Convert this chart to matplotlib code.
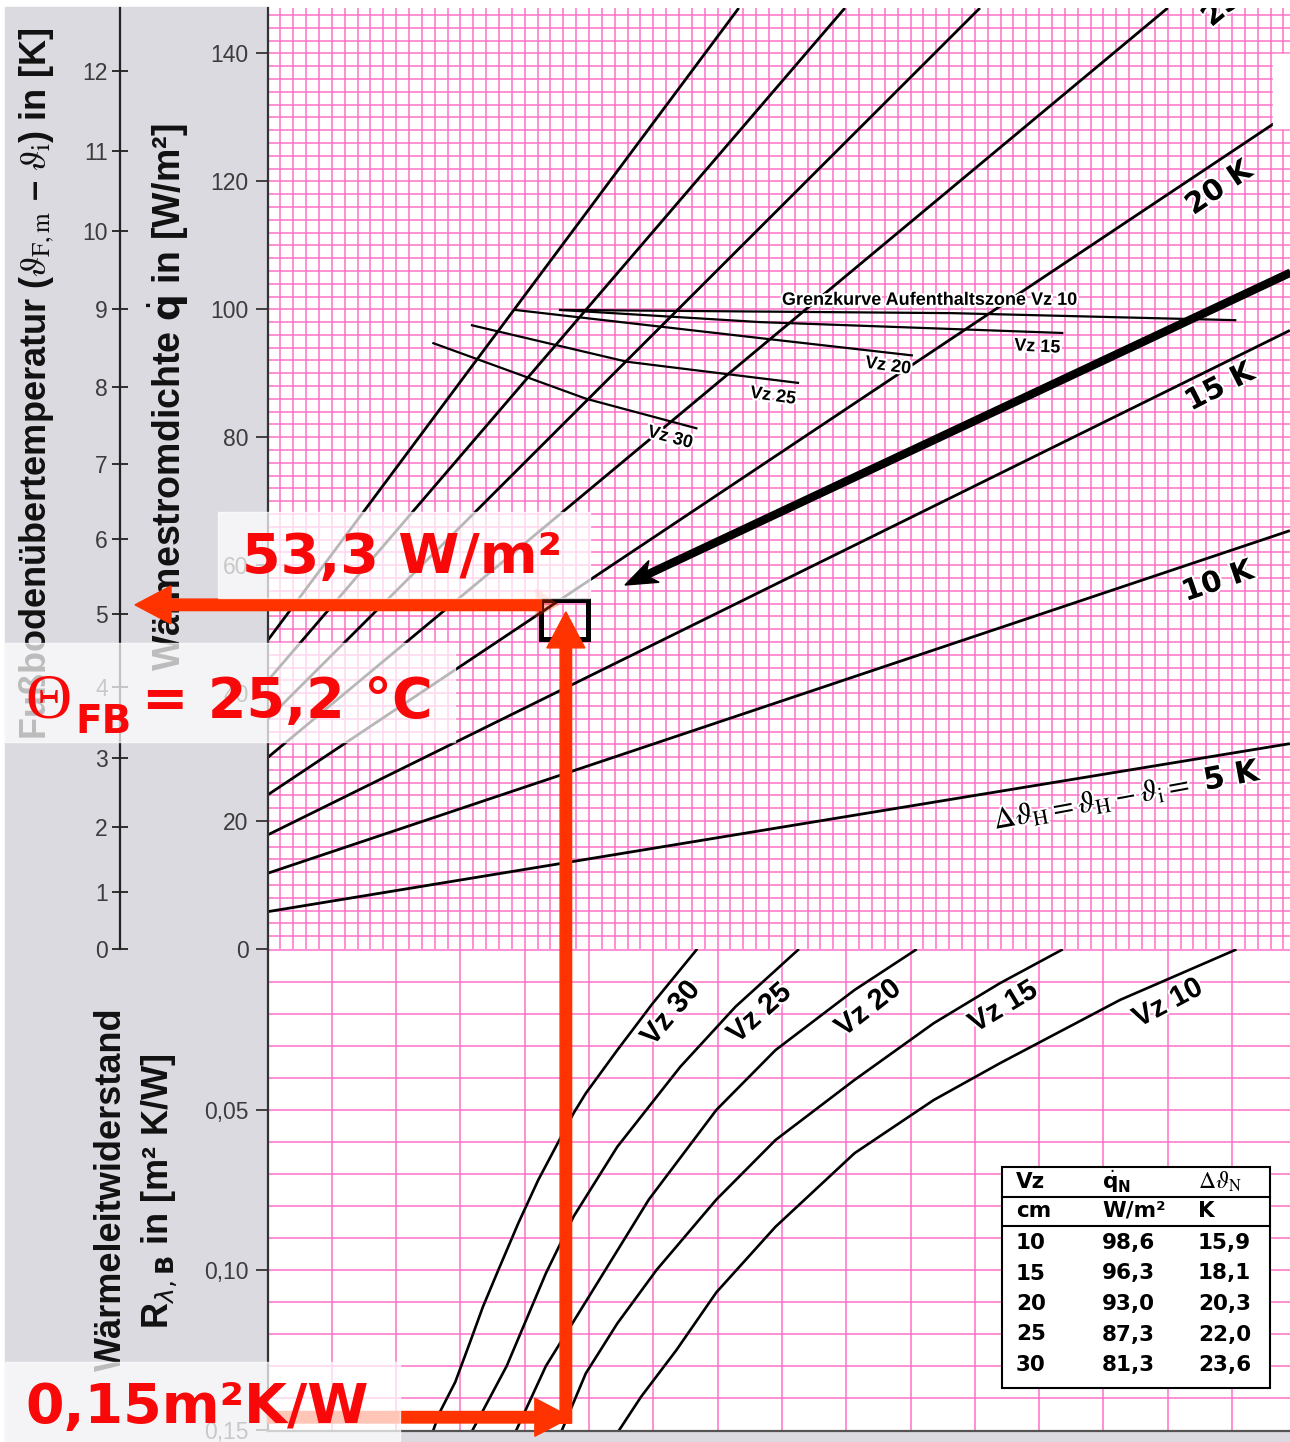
import numpy as np
import matplotlib.pyplot as plt
import matplotlib.patheffects as pe
from matplotlib.patches import Rectangle, FancyArrow, Polygon
from matplotlib.transforms import IdentityTransform

W, H = 1290, 1442
plt.rcParams['font.family'] = ['Liberation Sans', 'DejaVu Sans']
plt.rcParams['mathtext.fontset'] = 'dejavusans'

# upper nomogram: heat flux lines for the heating medium excess temperature
# x = horizontal nomogram coordinate (one coarse cell of the lower grid = 1)
dtheta_h = [5, 10, 15, 20, 25, 30, 35, 40]
fan_x0 = [0.0, 0.0, 0.0, 0.0, 0.0, 0.0, 0.0, 0.0]
fan_q0 = [5.83, 11.83, 17.82, 24.07, 29.9, 35.9, 41.9, 48.2]
fan_x1 = [15.9, 15.9, 15.9, 15.9, 14.0, 11.08, 8.98, 7.33]
fan_q1 = [32.1, 65.4, 96.7, 130.7, 147.1, 147.1, 147.1, 147.1]

# Grenzkurven Aufenthaltszone
gk_vz = [10, 15, 20, 25, 30]
gk_x = [[4.55, 10.65, 15.05], [4.55, 7.66, 12.36], [3.85, 7.66, 10.02],
        [3.18, 5.59, 8.25], [2.58, 4.96, 6.67]]
gk_q = [[99.9, 99.4, 98.3], [99.9, 98.0, 96.3], [99.9, 95.5, 92.8],
        [97.5, 91.8, 88.5], [94.7, 86.0, 81.4]]

# lower nomogram: pipe spacing Vz over floor covering resistance R
vz = [30, 25, 20, 15, 10]
vz_x = [[6.67, 5.99, 5.44, 4.95, 4.76, 4.21, 3.90, 3.59, 3.35, 3.16, 2.92, 2.67, 2.58],
        [8.25, 7.28, 6.42, 5.44, 4.76, 4.33, 3.72, 3.19],
        [10.08, 9.13, 7.90, 6.98, 5.93, 5.07, 4.33, 3.87],
        [12.35, 11.39, 10.36, 9.13, 7.90, 6.98, 6.05, 5.44, 4.95, 4.58],
        [15.05, 13.26, 11.39, 10.36, 9.13, 7.90, 6.98, 6.36, 5.81, 5.47]]
vz_r = [[0, 0.0167, 0.0313, 0.0448, 0.0510, 0.0719, 0.0854, 0.100, 0.1115, 0.122, 0.135, 0.1448, 0.150],
        [0, 0.0177, 0.0365, 0.0615, 0.0833, 0.101, 0.130, 0.150],
        [0, 0.0125, 0.0313, 0.050, 0.078, 0.106, 0.130, 0.150],
        [0, 0.0104, 0.0229, 0.0406, 0.0594, 0.078, 0.100, 0.1167, 0.1323, 0.150],
        [0, 0.0156, 0.0354, 0.0469, 0.0635, 0.0865, 0.107, 0.125, 0.1396, 0.150]]

tab_vz = ['10', '15', '20', '25', '30']
tab_q = ['98,6', '96,3', '93,0', '87,3', '81,3']
tab_dt = ['15,9', '18,1', '20,3', '22,0', '23,6']

# reading example (red path)
read_r = 0.146
read_x = 4.64
read_q = 53.8

# q = 8.92 * dT^1.1 for the temperature scale
KH, NH = 8.92, 1.1


def q2T(q):
    q = np.asarray(q, dtype=float)
    return np.sign(q) * (np.abs(q) / KH) ** (1 / NH)


def T2q(t):
    t = np.asarray(t, dtype=float)
    return np.sign(t) * KH * np.abs(t) ** NH


def fx(px):
    return px / W


def fy(py):
    return 1 - py / H


pink = '#ff72c8'
red_arrow = '#ff3300'
red_text = '#f80808'
gray_bg = '#dbdae1'
tick_c = '#3c3c3c'

fig = plt.figure(figsize=(W / 100, H / 100), dpi=100)
xl, xr = 267.5, 1290
ax_low = fig.add_axes([fx(xl), fy(1431), fx(xr) - fx(xl), fy(949) - fy(1431)])
ax_up = fig.add_axes([fx(xl), fy(949), fx(xr) - fx(xl), fy(8) - fy(949)])

xmax = (xr - xl) / 64.3
ax_up.set_xlim(0, xmax)
ax_up.set_ylim(0, 147.1)
ax_low.set_xlim(0, xmax)
ax_low.set_ylim(0.1503, -0.0003)

# grids
for v in np.arange(0.2, xmax, 0.2):
    ax_up.axvline(v, color=pink, lw=1.1, zorder=0.5)
for h in np.arange(2, 147, 2):
    ax_up.axhline(h, color=pink, lw=1.1, zorder=0.5)
for v in np.arange(1, xmax, 1):
    ax_low.axvline(v, color=pink, lw=1.1, zorder=0.5)
for h in np.arange(0.0, 0.15, 0.01):
    ax_low.axhline(h, color=pink, lw=1.1, zorder=0.5)

for ax in (ax_up, ax_low):
    for s in ('top', 'right', 'bottom'):
        ax.spines[s].set_visible(False)
    ax.spines['left'].set_color('#333333')
    ax.spines['left'].set_linewidth(1.6)
    ax.set_xticks([])
ax_low.spines['bottom'].set_visible(True)
ax_low.spines['bottom'].set_color('#555555')
ax_low.spines['bottom'].set_linewidth(1.6)

ax_up.set_yticks(range(0, 141, 20))
ax_up.tick_params(axis='y', direction='out', length=8.6, width=1.3, pad=5,
                  labelsize=16.5, labelcolor=tick_c, color='#333333')
ax_low.set_yticks([0.05, 0.10, 0.15])
ax_low.set_yticklabels(['0,05', '0,10', '0,15'])
ax_low.tick_params(axis='y', direction='out', length=8.6, width=1.3, pad=5,
                   labelsize=16.5, labelcolor=tick_c, color='#333333')

sec = ax_up.secondary_yaxis((120 - xl) / (xr - xl), functions=(q2T, T2q))
sec.set_alignment('left')
sec.set_yticks(range(13))
sec.tick_params(direction='inout', length=11.5, width=1.3, pad=3,
                labelsize=16.5, labelcolor=tick_c, color='#222222')
sec.spines['left'].set_color('#222222')
sec.spines['left'].set_linewidth(1.6)

# fan lines
for x0, q0, x1, q1 in zip(fan_x0, fan_q0, fan_x1, fan_q1):
    ax_up.plot([x0, x1], [q0, q1], color='black', lw=2.0, zorder=2,
               solid_capstyle='butt')

# limit curves
for xs, qs in zip(gk_x, gk_q):
    ax_up.plot(xs, qs, color='black', lw=1.6, zorder=2)

halo = [pe.withStroke(linewidth=3, foreground='white')]
ax_up.text(8.0, 100.7, 'Grenzkurve Aufenthaltszone Vz 10', fontsize=13,
           fontweight='bold', ha='left', va='baseline', zorder=3,
           path_effects=halo)
for lx, lq, rot, s in [(11.97, 94.1, -3, 'Vz 15'), (9.65, 91.1, -8, 'Vz 20'),
                       (7.86, 86.4, -8, 'Vz 25'), (6.26, 79.9, -15, 'Vz 30')]:
    ax_up.text(lx, lq, s, fontsize=13, fontweight='bold', ha='center',
               va='center', rotation=rot, rotation_mode='anchor', zorder=3,
               path_effects=halo)

klab = dict(fontsize=21, fontweight='bold', family='DejaVu Sans', ha='center',
            va='center', rotation_mode='anchor', zorder=3, path_effects=halo)
ax_up.text(14.80, 118.9, '20 K', rotation=34, **klab)
ax_up.text(14.81, 87.8, '15 K', rotation=27, **klab)
ax_up.text(14.78, 57.4, '10 K', rotation=19, **klab)
ax_up.text(14.6, 145.0, '25 K', rotation=40, clip_on=True,
           **{k: v for k, v in klab.items() if k != 'ha'}, ha='left')
ax_up.text(13.37, 24.0,
           r'$\Delta\vartheta_\mathrm{H} = \vartheta_\mathrm{H} - \vartheta_\mathrm{i} =$ 5 K',
           rotation=10.5, math_fontfamily='stix',
           **{k: v for k, v in klab.items() if k != 'fontsize'}, fontsize=22)

# lower Vz curves
for xs, rs in zip(vz_x, vz_r):
    ax_low.plot(xs, rs, color='black', lw=1.9, zorder=2, solid_joinstyle='round')
for lx, lr, rot, s in [(6.27, 0.0198, 50, 'Vz 30'), (7.65, 0.0198, 42, 'Vz 25'),
                       (9.34, 0.0182, 38, 'Vz 20'), (11.44, 0.0178, 31, 'Vz 15'),
                       (14.0, 0.0166, 28, 'Vz 10')]:
    ax_low.text(lx, lr, s, fontsize=21, fontweight='bold', ha='center',
                va='center', rotation=rot, rotation_mode='anchor', zorder=3,
                path_effects=halo)

# black square at the reading point
ax_up.add_patch(Rectangle((4.26, 48.4), 0.73, 6.1, fill=False, lw=3.6,
                          edgecolor='black', zorder=5))

# background panels
fig.add_artist(Rectangle((fx(5), fy(1441)), fx(xl) - fx(5), fy(7) - fy(1441),
                         transform=fig.transFigure, color=gray_bg, zorder=-1))
fig.add_artist(Rectangle((fx(xl), fy(1442)), fx(xr) - fx(xl), fy(1432) - fy(1442),
                         transform=fig.transFigure, color=gray_bg, zorder=-1))
fig.add_artist(Rectangle((fx(1273), fy(128)), fx(1290) - fx(1273), fy(54) - fy(128),
                         transform=fig.transFigure, color='white', zorder=2))

# axis titles
fig.text(fx(37), fy(384),
         r'Fußbodenübertemperatur ($\vartheta_{\mathrm{F,m}}$ – $\vartheta_{\mathrm{i}}$) in [K]',
         rotation=90, ha='center', va='center', fontsize=26, fontweight='bold',
         color='#111111', math_fontfamily='stix')
fig.text(fx(168), fy(397), r'Wärmestromdichte $\dot{\mathbf{q}}$ in [W/m²]',
         rotation=90, ha='center', va='center', fontsize=27, fontweight='bold',
         color='#111111')
fig.text(fx(111), fy(1189), 'Wärmeleitwiderstand', rotation=90, ha='center',
         va='center', fontsize=26, fontweight='bold', color='#111111')
fig.text(fx(160), fy(1191), r'R$_{\lambda,\mathbf{B}}$ in [m² K/W]', rotation=90,
         ha='center', va='center', fontsize=26, fontweight='bold', color='#111111')

# table
fig.add_artist(Rectangle((fx(1002), fy(1388)), fx(1270) - fx(1002), fy(1167) - fy(1388),
                         transform=fig.transFigure, facecolor='white',
                         edgecolor='black', lw=1.5, zorder=3))
for yl in (1197, 1226):
    fig.add_artist(plt.Line2D([fx(1002), fx(1270)], [fy(yl), fy(yl)],
                              transform=fig.transFigure, color='black', lw=1.5,
                              zorder=3.1))
tb = dict(fontsize=15.5, fontweight='bold', family='DejaVu Sans', ha='left',
          va='center', zorder=3.2)
fig.text(fx(1016), fy(1182), 'Vz', **tb)
fig.text(fx(1102), fy(1182), r'$\dot{\mathbf{q}}_{\mathbf{N}}$', **tb)
fig.text(fx(1198), fy(1182), r'$\Delta\vartheta_\mathrm{N}$', math_fontfamily='stix',
         **{k: v for k, v in tb.items() if k not in ('fontweight', 'fontsize')},
         fontsize=17)
fig.text(fx(1016), fy(1211), 'cm', **tb)
fig.text(fx(1102), fy(1211), 'W/m²', **tb)
fig.text(fx(1198), fy(1211), 'K', **tb)
for i in range(len(tab_vz)):
    yy = 1243 + 30.5 * i
    fig.text(fx(1016), fy(yy), tab_vz[i], **tb)
    fig.text(fx(1102), fy(yy), tab_q[i], **tb)
    fig.text(fx(1198), fy(yy), tab_dt[i], **tb)

# red reading path
p_bl = ax_low.transData.transform((0, read_r))
p_br = ax_low.transData.transform((read_x, read_r))
p_top = ax_up.transData.transform((read_x, read_q - 1.1))
p_hs = ax_up.transData.transform((4.26, read_q))
tip_left = fig.transFigure.transform((fx(135), 0))[0]

arr = dict(transform=IdentityTransform(), color=red_arrow, zorder=3.5,
           length_includes_head=True, width=11.5, head_width=38, head_length=36)
fig.add_artist(FancyArrow(p_bl[0], p_bl[1], p_br[0] + 5 - p_bl[0], 0, **arr))
fig.add_artist(FancyArrow(p_br[0], p_br[1] - 6, 0, p_top[1] - p_br[1] + 6, **arr))
fig.add_artist(FancyArrow(p_hs[0], p_hs[1], tip_left - p_hs[0], 0, **arr))
# faint right-pointing head left over at the square
fig.add_artist(Polygon([(p_hs[0] - 6, p_hs[1] + 17), (p_hs[0] + 18, p_hs[1]),
                        (p_hs[0] - 6, p_hs[1] - 13)], closed=True,
                       transform=IdentityTransform(), color=red_arrow, alpha=0.35,
                       zorder=3.4, lw=0))

# black arrow pointing at the reading
b0 = ax_up.transData.transform((xmax, 105.7))
b1 = ax_up.transData.transform((5.56, 56.9))
fig.add_artist(FancyArrow(b0[0], b0[1], b1[0] - b0[0], b1[1] - b0[1],
                          transform=IdentityTransform(), color='black', zorder=2.5,
                          length_includes_head=True, width=7, head_width=24,
                          head_length=32, overhang=0.2))

# translucent boxes behind the red values
for (x0, y0, x1, y1) in [(218, 512, 590, 598), (5, 643, 455, 742), (5, 1362, 400, 1442)]:
    fig.add_artist(Rectangle((fx(x0), fy(y1)), fx(x1) - fx(x0), fy(y0) - fy(y1),
                             transform=fig.transFigure, color='white', alpha=0.72,
                             zorder=4))

rt = dict(color=red_text, fontweight='bold', family='DejaVu Sans', ha='left',
          va='baseline', zorder=5)
fig.text(fx(242), fy(573), '53,3 W/m²', fontsize=40, **rt)
fig.text(fx(25), fy(717), 'Θ', fontsize=46, color=red_text, family='Liberation Serif',
         ha='left', va='baseline', zorder=5)
fig.text(fx(75), fy(733), 'FB', fontsize=28, **rt)
fig.text(fx(142), fy(717), '= 25,2 °C', fontsize=40, **rt)
fig.text(fx(25), fy(1423), '0,15m²K/W', fontsize=40, **rt)

fig.savefig('out.png', dpi=100)
